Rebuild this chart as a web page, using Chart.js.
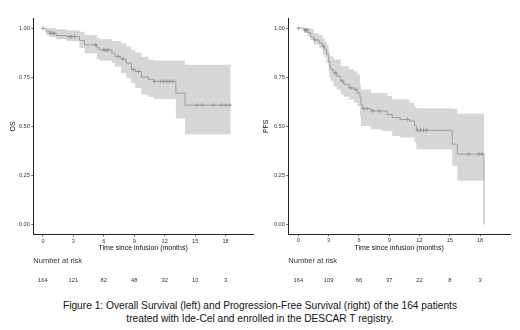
<!DOCTYPE html>
<html><head><meta charset="utf-8">
<script src="https://cdn.jsdelivr.net/npm/chart.js@4.4.1/dist/chart.umd.min.js"></script>
<style>
html,body{margin:0;padding:0;background:#fff;width:520px;height:330px;overflow:hidden;}
#wrap{position:relative;width:520px;height:330px;}
.panel{position:absolute;top:0;width:260px;height:292px;}
#caption{position:absolute;left:0;top:298.5px;width:520px;text-align:center;font-family:"Liberation Sans",Arial,sans-serif;font-size:10.2px;line-height:13px;color:#111;}
</style></head><body>
<div id="wrap">
<div class="panel" style="left:0"><canvas id="os" width="260" height="292"></canvas></div>
<div class="panel" style="left:260px"><canvas id="pfs" width="260" height="292"></canvas></div>
<div id="caption">Figure 1: Overall Survival (left) and Progression-Free Survival (right) of the 164 patients<br>treated with Ide-Cel and enrolled in the DESCAR T registry.</div>
</div>
<script>
// ---- data ----
const xTicks = [0, 3, 6, 9, 12, 15, 18];
const yTicks = [0, 0.25, 0.5, 0.75, 1];

const osTime  = [0, 0.3, 0.66, 1.3, 2.3, 3.6, 4.1, 5.3, 5.6, 6.8, 7.1, 7.7, 8.2, 8.7, 9.1, 9.7, 10.4, 10.9, 13.1, 14.0, 18.5];
const osSurv  = [1, 0.985, 0.975, 0.963, 0.958, 0.938, 0.916, 0.9, 0.89, 0.873, 0.857, 0.843, 0.823, 0.79, 0.78, 0.752, 0.74, 0.73, 0.67, 0.609, 0.609];
const osLower = [1, 0.965, 0.955, 0.944, 0.935, 0.9, 0.873, 0.843, 0.835, 0.823, 0.806, 0.772, 0.747, 0.72, 0.696, 0.663, 0.65, 0.64, 0.541, 0.46, 0.46];
const osUpper = [1, 1, 1, 0.995, 0.99, 0.983, 0.966, 0.95, 0.945, 0.935, 0.935, 0.923, 0.907, 0.89, 0.877, 0.855, 0.84, 0.836, 0.836, 0.814, 0.814];
const osCensTime = [0, 0.7, 0.9, 1.1, 2.6, 2.8, 3.1, 5.2, 6.0, 6.2, 6.4, 7.4, 7.9, 8.9, 9.4, 11.0, 11.6, 11.9, 12.2, 12.5, 12.8, 15.2, 15.7, 16.8, 17.6, 18.0, 18.4];
const osCensSurv = [1, 0.975, 0.975, 0.975, 0.958, 0.958, 0.958, 0.916, 0.89, 0.89, 0.89, 0.857, 0.843, 0.79, 0.78, 0.73, 0.73, 0.73, 0.73, 0.73, 0.73, 0.609, 0.609, 0.609, 0.609, 0.609, 0.609];
const osRisk = [164, 121, 82, 48, 32, 10, 3];

const pfsTime  = [0, 0.56, 0.9, 1.2, 1.55, 2.05, 2.4, 2.6, 2.8, 3.0, 3.1, 3.2, 3.5, 3.8, 4.2, 4.5, 5.0, 5.5, 5.85, 6.1, 6.2, 6.35, 7.2, 8.3, 8.8, 9.3, 10.1, 11.0, 11.5, 11.7, 15.25, 15.75, 18.4];
const pfsSurv  = [1, 0.99, 0.978, 0.954, 0.94, 0.924, 0.907, 0.89, 0.865, 0.83, 0.806, 0.79, 0.772, 0.755, 0.73, 0.713, 0.696, 0.6875, 0.67, 0.645, 0.61, 0.59, 0.578, 0.578, 0.56, 0.544, 0.535, 0.527, 0.505, 0.48, 0.409, 0.358, 0];
const pfsLower = [1, 0.975, 0.96, 0.94, 0.916, 0.9, 0.865, 0.85, 0.823, 0.772, 0.75, 0.73, 0.704, 0.6875, 0.662, 0.65, 0.637, 0.62, 0.603, 0.55, 0.502, 0.502, 0.485, 0.476, 0.476, 0.451, 0.443, 0.443, 0.417, 0.383, 0.299, 0.223, 0.223];
const pfsUpper = [1, 1, 1, 0.995, 0.975, 0.965, 0.95, 0.93, 0.916, 0.882, 0.856, 0.856, 0.84, 0.84, 0.806, 0.806, 0.79, 0.78, 0.764, 0.713, 0.6875, 0.6875, 0.67, 0.67, 0.654, 0.637, 0.637, 0.62, 0.6, 0.592, 0.59, 0.564, 0.564];
const pfsCensTime = [0, 0.6, 0.75, 0.85, 1.6, 2.5, 3.7, 4.35, 5.2, 5.7, 6.5, 6.8, 7.4, 8.0, 10.8, 11.8, 12.1, 12.4, 12.7, 16.9, 17.9, 18.2];
const pfsCensSurv = [1, 0.99, 0.99, 0.99, 0.94, 0.907, 0.772, 0.73, 0.696, 0.6875, 0.59, 0.59, 0.578, 0.578, 0.535, 0.48, 0.48, 0.48, 0.48, 0.358, 0.358, 0.358];
const pfsRisk = [164, 109, 66, 37, 22, 8, 3];

// ---- drawing ----
const FONT = '"Liberation Sans", Arial, Helvetica, sans-serif';
const LINE = '#8c8c8c';
const BAND = '#d6d6d6';

const pts = (xs, ys) => xs.map((x, i) => ({x: x, y: ys[i]}));

const riskPlugin = {
  id: 'riskTable',
  afterDraw(chart, args, opts) {
    const ctx = chart.ctx, xs = chart.scales.x, area = chart.chartArea;
    ctx.save();
    ctx.fillStyle = '#333';
    ctx.textBaseline = 'middle';
    ctx.textAlign = 'left';
    ctx.font = '7.5px ' + FONT;
    ctx.fillText('Number at risk', area.left, 260.7);
    ctx.font = '5.8px ' + FONT;
    ctx.textAlign = 'center';
    opts.counts.forEach((n, i) => ctx.fillText(String(n), xs.getPixelForValue(xTicks[i]), 280.7));
    ctx.restore();
  }
};

function makePanel(id, cfg) {
  new Chart(document.getElementById(id), {
    type: 'line',
    data: {
      datasets: [
        {data: pts(cfg.time, cfg.upper), stepped: 'before', borderWidth: 0, pointRadius: 0, fill: '+1', backgroundColor: BAND, borderColor: 'rgba(0,0,0,0)'},
        {data: pts(cfg.time, cfg.lower), stepped: 'before', borderWidth: 0, pointRadius: 0, fill: false, borderColor: 'rgba(0,0,0,0)'},
        {data: pts(cfg.time, cfg.surv), stepped: 'before', borderWidth: 0.75, pointRadius: 0, fill: false, borderColor: LINE},
        {data: pts(cfg.censT, cfg.censS), showLine: false, pointStyle: 'cross', pointRadius: 2.1, pointBorderWidth: 0.7, pointBorderColor: LINE, pointBackgroundColor: LINE, borderColor: LINE, fill: false}
      ]
    },
    options: {
      responsive: false,
      animation: false,
      events: [],
      layout: {padding: {left: 0, top: cfg.top, right: cfg.right, bottom: 292 - cfg.bottom - 20.5}},
      plugins: {
        legend: {display: false},
        tooltip: {enabled: false},
        filler: {drawTime: 'beforeDatasetsDraw'},
        riskTable: {counts: cfg.risk}
      },
      scales: {
        x: {
          type: 'linear', min: cfg.xmin, max: cfg.xmax,
          afterBuildTicks: s => { s.ticks = xTicks.map(v => ({value: v})); },
          afterFit: s => { s.height = 20.5; },
          ticks: {font: {size: 5.6, family: FONT}, color: '#333', padding: 1.2, maxRotation: 0, autoSkip: false},
          grid: {display: true, drawOnChartArea: false, drawTicks: true, tickLength: 2, color: '#444', lineWidth: 0.8},
          border: {display: true, color: '#222', width: 1},
          title: {display: true, text: 'Time since infusion (months)', font: {size: 7, family: FONT}, color: '#111', padding: {top: 0, bottom: 2.6}}
        },
        y: {
          type: 'linear', min: -0.05, max: 1.05,
          afterBuildTicks: s => { s.ticks = yTicks.map(v => ({value: v})); },
          afterFit: s => { s.width = cfg.left; },
          ticks: {font: {size: 5.6, family: FONT}, color: '#333', padding: 1.5, callback: v => Number(v).toFixed(2)},
          grid: {display: true, drawOnChartArea: false, drawTicks: true, tickLength: 2, color: '#444', lineWidth: 0.8},
          border: {display: true, color: '#222', width: 1},
          title: {display: true, text: cfg.ylabel, font: {size: 7, family: FONT}, color: '#111', padding: {top: cfg.ytitlePad, bottom: 0}}
        }
      }
    },
    plugins: [riskPlugin]
  });
}

makePanel('os', {
  time: osTime, surv: osSurv, lower: osLower, upper: osUpper,
  censT: osCensTime, censS: osCensSurv, risk: osRisk, ylabel: 'OS',
  xmin: -0.95, xmax: 20.7, left: 33.3, right: 7, top: 18.5, bottom: 234.5, ytitlePad: 8.5
});
makePanel('pfs', {
  time: pfsTime, surv: pfsSurv, lower: pfsLower, upper: pfsUpper,
  censT: pfsCensTime, censS: pfsCensSurv, risk: pfsRisk, ylabel: 'PFS',
  xmin: -1.0, xmax: 20.97, left: 28.3, right: 10, top: 18.3, bottom: 234.3, ytitlePad: 1.8
});
</script>
</body></html>
